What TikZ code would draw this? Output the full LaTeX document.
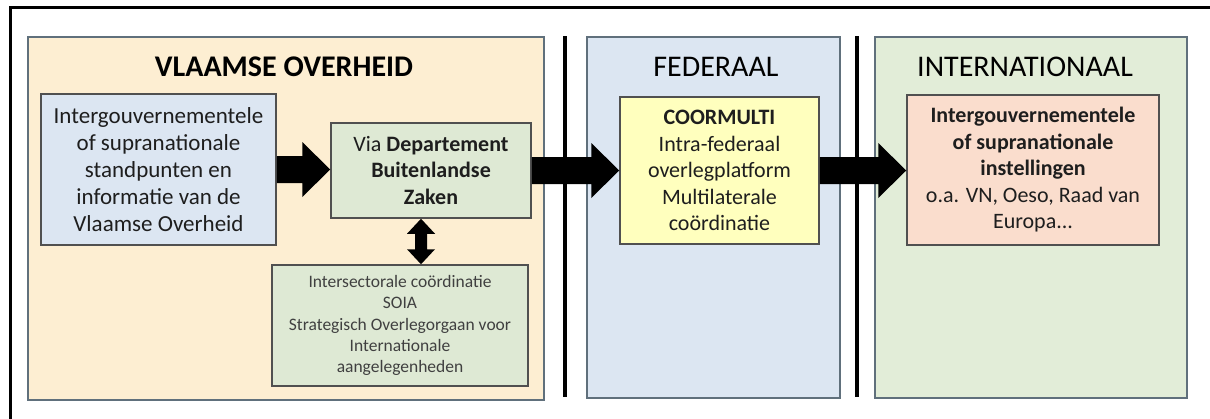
\documentclass[tikz,border=0pt]{standalone}
\usepackage{fontspec}
\setmainfont{Carlito}
\usetikzlibrary{calc}
\definecolor{vlbg}{RGB}{253,238,210}
\definecolor{fedbg}{RGB}{220,230,242}
\definecolor{intbg}{RGB}{226,237,216}
\definecolor{panelborder}{RGB}{96,112,124}
\definecolor{boxborder}{RGB}{80,80,80}
\definecolor{bluebox}{RGB}{220,230,242}
\definecolor{greenbox}{RGB}{222,233,212}
\definecolor{yellowbox}{RGB}{255,255,190}
\definecolor{salmonbox}{RGB}{250,221,205}
\definecolor{textdark}{RGB}{30,30,30}
\newcommand{\hblock}[2]{%
  \coordinate (#1#2s) at (#1.east);
  \coordinate (#1#2e) at (#2.west|-#1.east);
  \fill[black] ($(#1#2s)+(0,-13.5)$) -- ($(#1#2e)+(-28,-13.5)$) -- ($(#1#2e)+(-28,-27.5)$)
    -- (#1#2e) -- ($(#1#2e)+(-28,27.5)$) -- ($(#1#2e)+(-28,13.5)$) -- ($(#1#2s)+(0,13.5)$) -- cycle;}
\newcommand{\vdblock}[3]{%
  \coordinate (#1#2t) at ($(#1.south)+(#3,0)$);
  \coordinate (#1#2b) at (#1#2t|-#2.north);
  \fill[black] (#1#2t) -- ($(#1#2t)+(14,15)$) -- ($(#1#2t)+(6,15)$) -- ($(#1#2b)+(6,-15)$)
    -- ($(#1#2b)+(14,-15)$) -- (#1#2b) -- ($(#1#2b)+(-14,-15)$) -- ($(#1#2b)+(-6,-15)$)
    -- ($(#1#2t)+(-6,15)$) -- ($(#1#2t)+(-14,15)$) -- cycle;}
\tikzset{
  panel/.style={draw=panelborder, line width=2.5pt, inner sep=0pt},
  box/.style={draw=boxborder, line width=1.5pt, inner sep=0pt, align=center, text=textdark,
    font=\fontsize{22}{26.5}\selectfont},
  bigtextbox/.style={box, font=\fontsize{23}{27}\selectfont},
  smallbox/.style={box, text=textdark!85, font=\fontsize{17.5}{21.3}\selectfont},
  title/.style={anchor=base, inner sep=0pt, text=black, font=\fontsize{30}{36}\selectfont},
  divider/.style={line width=4pt, black},
  frameline/.style={line width=3pt, black},
}
\begin{document}
\begin{tikzpicture}[x=1pt,y=-1pt]
\useasboundingbox (0,0) rectangle (1210,418);
% outer frame (cropped)
\coordinate (fc) at (10.5,7.5);
\coordinate (fr) at (1212,7.5);
\coordinate (fb) at (10.5,420);
\draw[frameline] (fr) -- (fc) -- (fb);
% panels
\node[panel, fill=vlbg, minimum width=516pt, minimum height=363pt] (vl) at (286,218.5) {};
\node[panel, fill=fedbg, minimum width=253pt, minimum height=361pt] (fed) at (713.5,217.5) {};
\node[panel, fill=intbg, minimum width=312pt, minimum height=361pt] (int) at (1031,217.5) {};
% dividers
\coordinate (d1t) at (565,36);
\coordinate (d1b) at (565,397);
\coordinate (d2t) at (857,36);
\coordinate (d2b) at (857,397);
\draw[divider] (d1t) -- (d1b);
\draw[divider] (d2t) -- (d2b);
% titles
\node[title, font=\fontsize{30}{36}\selectfont\bfseries] (tvl) at (284,76) {VLAAMSE OVERHEID};
\node[title] (tfed) at (716,76) {FEDERAAL};
\node[title] (tint) at (1025,76) {INTERNATIONAAL};
% boxes
\node[bigtextbox, fill=bluebox, minimum width=235pt, minimum height=151pt] (blue) at (158.5,169.5)
  {Intergouvernementele\\of supranationale\\standpunten en\\informatie van de\\Vlaamse Overheid};
\node[box, fill=greenbox, minimum width=200pt, minimum height=95pt] (green) at (431,170.5)
  {Via \textbf{Departement}\\\textbf{Buitenlandse}\\\textbf{Zaken}};
\node[smallbox, fill=greenbox, minimum width=256pt, minimum height=121pt] (soia) at (400,325.5)
  {Intersectorale coördinatie\\SOIA\\Strategisch Overlegorgaan voor\\Internationale\\aangelegenheden};
\node[box, fill=yellowbox, minimum width=199pt, minimum height=147pt] (coor) at (719.5,170.5)
  {\textbf{COORMULTI}\\Intra-federaal\\overlegplatform\\Multilaterale\\coördinatie};
\node[box, fill=salmonbox, minimum width=252pt, minimum height=150pt] (inst) at (1033,170)
  {\textbf{Intergouvernementele}\\\textbf{of supranationale}\\\textbf{instellingen}\\o.a. VN, Oeso, Raad van\\Europa...};
% arrows
\hblock{blue}{green}
\hblock{green}{coor}
\hblock{coor}{inst}
\vdblock{green}{soia}{-10}
\end{tikzpicture}
\end{document}
